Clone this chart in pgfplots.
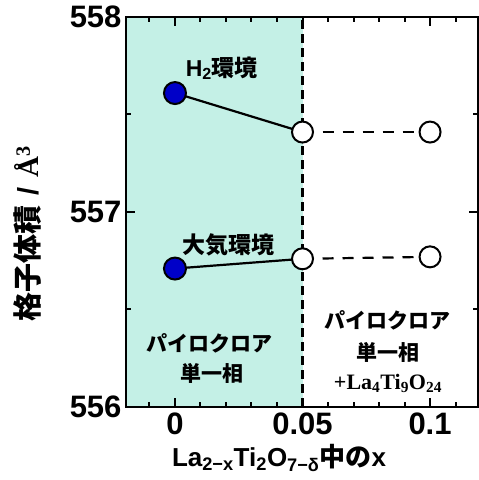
\documentclass[border=0pt]{standalone}
\usepackage{pgfplots}
\pgfplotsset{compat=1.18}
\usepackage{fontspec}
\setmainfont{Liberation Sans}
\newfontfamily\jp{Noto Sans CJK JP}
\newfontfamily\serif{Liberation Serif}
\definecolor{shadecol}{RGB}{196,240,230}
\definecolor{mblue}{RGB}{0,0,200}
\begin{document}
\begin{tikzpicture}
\begin{axis}[at={(126bp,73bp)}, anchor=south west, scale only axis,
  set layers,
  width=352bp, height=390bp,
  xmin=-0.0192, xmax=0.1188, ymin=556, ymax=558,
  xtick={0,0.05,0.1}, xticklabels={0,0.05,0.1},
  minor xtick={-0.01,0.01,0.02,0.03,0.04,0.06,0.07,0.08,0.09,0.11},
  ytick={556,557,558}, yticklabels={556,557,558},
  minor ytick={556.5,557.5},
  every tick/.style={black, line width=2bp},
  major tick length=9bp, minor tick length=5bp,
  ticklabel style={font=\fontsize{31bp}{31bp}\selectfont\bfseries},
  yticklabel style={xshift=-1bp},
  xticklabel style={yshift=-2bp},
  clip=false]
\begin{pgfonlayer}{axis background}
\fill[shadecol] (axis cs:-0.0192,556) rectangle (axis cs:0.05,558);
\end{pgfonlayer}
\draw[line width=2.5bp, dash pattern=on 9bp off 5bp] (axis cs:0.05,556) -- (axis cs:0.05,558);
% ticks
\pgfplotsinvokeforeach{0,0.05,0.1}{
  \draw[line width=2bp] (axis cs:#1,556) -- (axis cs:#1,556.046);
  \draw[line width=2bp] (axis cs:#1,558) -- (axis cs:#1,557.954);}
\pgfplotsinvokeforeach{-0.01,0.01,0.02,0.03,0.04,0.06,0.07,0.08,0.09,0.11}{
  \draw[line width=2bp] (axis cs:#1,556) -- (axis cs:#1,556.026);
  \draw[line width=2bp] (axis cs:#1,558) -- (axis cs:#1,557.974);}
\pgfplotsinvokeforeach{556,557,558}{
  \draw[line width=2bp] (axis cs:-0.0192,#1) -- (axis cs:-0.0157,#1);
  \draw[line width=2bp] (axis cs:0.1188,#1) -- (axis cs:0.1153,#1);}
\pgfplotsinvokeforeach{556.5,557.5}{
  \draw[line width=2bp] (axis cs:-0.0192,#1) -- (axis cs:-0.0172,#1);
  \draw[line width=2bp] (axis cs:0.1188,#1) -- (axis cs:0.1168,#1);}
% H2
\addplot[line width=2.2bp, black] coordinates {(0,557.61) (0.05,557.41)};
\addplot[line width=2.2bp, black, dash pattern=on 11bp off 9bp] coordinates {(0.05,557.41) (0.1,557.41)};
% air
\addplot[line width=2.2bp, black] coordinates {(0,556.71) (0.05,556.76)};
\addplot[line width=2.2bp, black, dash pattern=on 11bp off 9bp] coordinates {(0.05,556.76) (0.1,556.77)};
\addplot[only marks, mark=*, mark size=11bp, mark options={fill=mblue, draw=black, line width=2bp}] coordinates {(0,557.61) (0,556.71)};
\addplot[only marks, mark=*, mark size=10.5bp, mark options={fill=white, draw=black, line width=2bp}] coordinates {(0.05,557.41) (0.1,557.41) (0.05,556.76) (0.1,556.77)};
\draw[line width=2.5bp, black] (rel axis cs:0,0) rectangle (rel axis cs:1,1);
\node at (axis cs:0.0184,557.738) {\fontsize{23bp}{23bp}\selectfont\bfseries H\textsubscript{2}{\jp\bfseries 環境}};
\node at (axis cs:0.0208,556.83) {\fontsize{23bp}{23bp}\selectfont\jp\bfseries 大気環境};
\node at (axis cs:0.0137,556.328) {\fontsize{21bp}{21bp}\selectfont\jp\bfseries パイロクロア};
\node at (axis cs:0.0145,556.174) {\fontsize{21bp}{21bp}\selectfont\jp\bfseries 単一相};
\node at (axis cs:0.0835,556.446) {\fontsize{21bp}{21bp}\selectfont\jp\bfseries パイロクロア};
\node at (axis cs:0.0835,556.282) {\fontsize{21bp}{21bp}\selectfont\jp\bfseries 単一相};
\node at (axis cs:0.0835,556.123) {\fontsize{22bp}{22bp}\selectfont\serif\bfseries +La\textsubscript{4}Ti\textsubscript{9}O\textsubscript{24}};
\end{axis}
\node at (279bp,22bp) {\fontsize{26bp}{26bp}\selectfont\bfseries La\textsubscript{2−x}Ti\textsubscript{2}O\textsubscript{7−δ}{\jp\bfseries 中の}x};
\node[rotate=90] at (28bp,246bp) {\fontsize{29bp}{29bp}\selectfont{\jp\bfseries 格子体積}\hspace{0.35em}\bfseries /\hspace{0.35em}{\serif\bfseries Å\textsuperscript{3}}};
\pgfresetboundingbox
\path (0,0) rectangle (479bp,480bp);
\end{tikzpicture}
\end{document}
